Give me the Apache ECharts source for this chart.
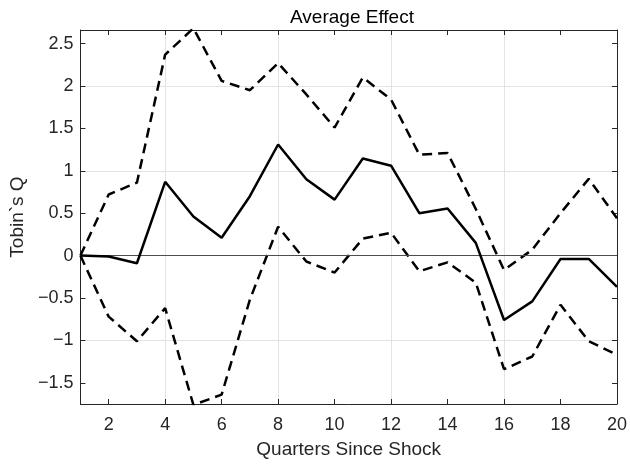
<!DOCTYPE html>
<html>
<head>
<meta charset="utf-8">
<script src="https://cdn.jsdelivr.net/npm/echarts@6/dist/echarts.min.js"></script>
<style>
  html, body { margin: 0; padding: 0; background: #fff; }
  #chart { width: 630px; height: 466px; }
</style>
</head>
<body>
<div id="chart"></div>
<script>
var quarters = [1, 2, 3, 4, 5, 6, 7, 8, 9, 10, 11, 12, 13, 14, 15, 16, 17, 18, 19, 20];
var meanEffect = [0, -0.01, -0.09, 0.87, 0.46, 0.21, 0.70, 1.31, 0.90, 0.66, 1.145, 1.06, 0.50, 0.555, 0.15, -0.76, -0.54, -0.04, -0.04, -0.37];
var upperBand = [0, 0.72, 0.86, 2.37, 2.68, 2.06, 1.95, 2.27, 1.90, 1.51, 2.10, 1.84, 1.19, 1.21, 0.55, -0.17, 0.07, 0.50, 0.905, 0.44];
var lowerBand = [0, -0.72, -1.01, -0.62, -1.76, -1.64, -0.52, 0.34, -0.07, -0.20, 0.20, 0.27, -0.185, -0.08, -0.32, -1.34, -1.19, -0.58, -1.01, -1.17];
var xTicks = [2, 4, 6, 8, 10, 12, 14, 16, 18, 20];
var yTicks = [-1.5, -1, -0.5, 0, 0.5, 1, 1.5, 2, 2.5];

function pairs(values) {
    return quarters.map(function (q, i) { return [q, values[i]]; });
}

var textColor = "#262626";
var gridColor = "#e3e3e3";
var font = "'Liberation Sans', Arial, Helvetica, sans-serif";

// box axes: same scale on opposite sides, ticks pointing in
function boxLine() {
    return { show: true, onZero: false, lineStyle: { color: textColor, width: 1 } };
}
function boxTick(values) {
    return { show: true, inside: true, length: 5, customValues: values, lineStyle: { color: textColor } };
}

var chart = echarts.init(document.getElementById("chart"));

var option = {
    animation: false,
    textStyle: { fontFamily: font },
    title: {
        text: "Average Effect",
        left: 347,
        top: 3,
        textAlign: "center",
        textStyle: { fontSize: 19, fontWeight: "normal", color: "#000", fontFamily: font }
    },
    grid: { left: 77, right: 13, top: 30, bottom: 62, show: false },
    xAxis: [{
        type: "value",
        min: 1,
        max: 20,
        interval: 1,
        name: "Quarters Since Shock",
        nameLocation: "middle",
        nameGap: 36,
        nameTextStyle: { fontSize: 19, color: textColor, fontFamily: font },
        axisLine: boxLine(),
        axisTick: boxTick(xTicks),
        axisLabel: {
            customValues: xTicks,
            fontSize: 18, color: textColor, margin: 12, fontFamily: font,
            formatter: function (v) { return v % 2 === 0 ? String(v) : ""; }
        },
        splitLine: { show: true, lineStyle: { color: ["transparent", gridColor], width: 1 } }
    }, {
        type: "value",
        position: "top",
        min: 1,
        max: 20,
        interval: 1,
        axisLine: boxLine(),
        axisTick: boxTick(xTicks),
        axisLabel: { show: false },
        splitLine: { show: false }
    }],
    yAxis: [{
        type: "value",
        min: -1.75,
        max: 2.66,
        interval: 0.25,
        name: "Tobin`s Q",
        nameLocation: "middle",
        nameGap: 47,
        nameTextStyle: { fontSize: 19, color: textColor, fontFamily: font },
        axisLine: boxLine(),
        axisTick: boxTick(yTicks),
        axisLabel: {
            customValues: yTicks,
            fontSize: 18, color: textColor, margin: 7, fontFamily: font,
            formatter: function (v) {
                var r = Math.round(v * 100) / 100;
                if (Math.abs(r * 2 - Math.round(r * 2)) > 1e-6) return "";
                return String(r).replace("-", "\u2212");
            }
        },
        splitLine: { show: true, lineStyle: { color: ["transparent", gridColor], width: 1 } }
    }, {
        type: "value",
        position: "right",
        min: -1.75,
        max: 2.66,
        interval: 0.25,
        axisLine: boxLine(),
        axisTick: boxTick(yTicks),
        axisLabel: { show: false },
        splitLine: { show: false }
    }],
    series: [{
        name: "Mean",
        type: "line",
        data: pairs(meanEffect),
        symbol: "none",
        lineStyle: { color: "#000", width: 2.5, type: "solid" },
        z: 5,
        markLine: {
            silent: true,
            symbol: "none",
            label: { show: false },
            lineStyle: { color: "#4d4d4d", width: 1.2, type: "solid" },
            data: [{ yAxis: 0 }]
        }
    }, {
        name: "Upper",
        type: "line",
        data: pairs(upperBand),
        symbol: "none",
        lineStyle: { color: "#000", width: 2.5, type: [10, 6] },
        z: 4
    }, {
        name: "Lower",
        type: "line",
        data: pairs(lowerBand),
        symbol: "none",
        lineStyle: { color: "#000", width: 2.5, type: [10, 6] },
        z: 4
    }]
};

chart.setOption(option);
</script>
</body>
</html>
